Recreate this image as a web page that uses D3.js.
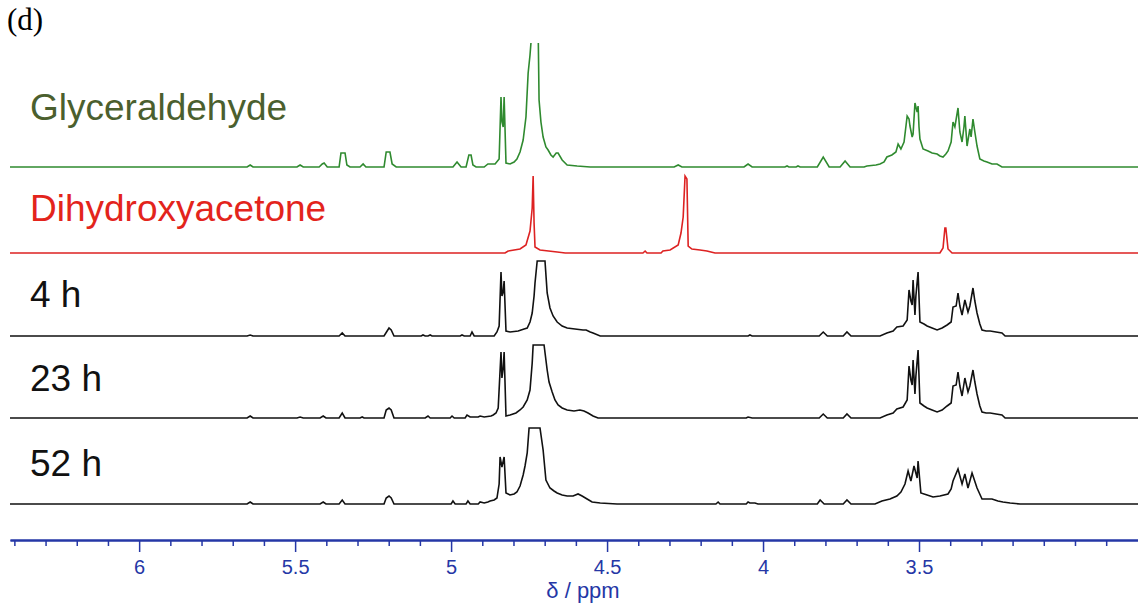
<!DOCTYPE html>
<html>
<head>
<meta charset="utf-8">
<script src="https://cdn.jsdelivr.net/npm/d3@7"></script>
<style>
  body { margin: 0; background: #fff; }
  svg { display: block; }
</style>
</head>
<body>
<svg class="chart"></svg>
<script>
// spectra as [ppm, intensity] pairs
const glyceraldehyde = [
  [6.414,0],[5.654,0],[5.644,2],[5.635,0],[5.494,0],[5.484,2],[5.474,0],
  [5.423,0],[5.413,3],[5.407,4],[5.397,0],[5.359,0],[5.353,14],[5.340,14],[5.334,2],[5.324,0],
  [5.292,0],[5.282,3],[5.273,0],[5.215,0],[5.208,15],[5.196,15],[5.189,3],[5.176,0],
  [4.994,0],[4.981,5],[4.968,0],[4.952,0],[4.943,12],[4.936,12],[4.930,2],[4.920,0],
  [4.894,0],[4.882,3],[4.859,3],[4.846,8],[4.840,70],[4.837,45],[4.833,40],[4.830,70],[4.824,4],
  [4.811,3],[4.798,5],[4.789,8],[4.779,15],[4.769,27],[4.760,50],[4.753,94],[4.747,112],[4.740,140],
  [4.721,140],[4.718,67],[4.712,45],[4.705,30],[4.696,20],[4.689,17],[4.680,12],[4.673,10],
  [4.663,14],[4.657,14],[4.644,7],[4.628,2],[4.596,1],[4.554,0],
  [4.285,0],[4.272,2],[4.260,0],[4.061,0],[4.048,3],[4.035,0],[3.930,0],[3.923,1],[3.917,0],
  [3.894,0],[3.888,1],[3.881,0],[3.826,0],[3.807,10],[3.788,0],[3.753,0],[3.737,6],[3.721,0],
  [3.676,0],[3.667,1],[3.638,2],[3.625,3],[3.612,5],[3.603,10],[3.587,12],[3.574,15],[3.567,23],
  [3.558,18],[3.548,25],[3.538,51],[3.532,48],[3.529,41],[3.522,30],[3.519,33],[3.513,64],
  [3.510,60],[3.506,55],[3.503,61],[3.500,40],[3.497,28],[3.487,18],[3.471,16],[3.458,14],
  [3.442,13],[3.433,11],[3.423,10],[3.414,13],[3.407,16],[3.397,25],[3.391,45],[3.385,40],
  [3.375,59],[3.369,35],[3.362,25],[3.356,40],[3.353,51],[3.346,21],[3.337,38],[3.333,30],
  [3.327,48],[3.321,35],[3.314,21],[3.305,8],[3.292,6],[3.282,5],[3.266,3],[3.250,3],[3.234,0],
  [2.798,0]
];
const dihydroxyacetone = [
  [6.414,0],[4.827,0],[4.817,2],[4.779,4],[4.760,8],[4.747,22],[4.740,45],[4.737,77],[4.734,30],
  [4.731,6],[4.715,3],[4.660,1],[4.634,0],[4.385,0],[4.378,2],[4.372,0],[4.327,0],[4.321,2],
  [4.298,3],[4.272,8],[4.263,20],[4.256,36],[4.250,77],[4.244,74],[4.240,7],[4.228,4],[4.202,3],
  [4.180,2],[4.154,0],[3.433,0],[3.423,5],[3.417,25],[3.414,25],[3.407,4],[3.394,0],[2.798,0]
];
const h4 = [
  [6.414,0],[5.654,0],[5.644,1],[5.635,0],[5.359,0],[5.349,3],[5.340,0],
  [5.215,0],[5.205,5],[5.199,8],[5.192,6],[5.183,0],[5.096,0],[5.090,1],[5.083,0],
  [5.074,0],[5.067,1],[5.061,0],[4.971,0],[4.965,1],[4.958,0],[4.939,0],[4.933,4],[4.926,0],
  [4.862,0],[4.853,4],[4.846,10],[4.840,64],[4.837,40],[4.833,44],[4.830,55],[4.824,5],
  [4.811,4],[4.785,5],[4.766,7],[4.756,8],[4.747,14],[4.740,23],[4.734,40],[4.731,53],[4.724,75],
  [4.699,75],[4.692,43],[4.683,28],[4.673,20],[4.660,14],[4.644,10],[4.628,8],[4.603,7],
  [4.577,6],[4.567,6],[4.554,4],[4.545,3],[4.522,0],
  [4.048,0],[4.042,1],[4.035,0],[3.820,0],[3.807,4],[3.794,0],[3.743,0],[3.731,4],[3.718,0],
  [3.625,0],[3.603,3],[3.583,5],[3.571,9],[3.551,10],[3.538,16],[3.532,46],[3.526,35],[3.522,31],
  [3.519,56],[3.513,21],[3.510,40],[3.503,64],[3.497,14],[3.484,12],[3.474,10],[3.458,8],
  [3.442,6],[3.426,8],[3.410,11],[3.397,14],[3.391,29],[3.381,30],[3.375,43],[3.369,30],
  [3.362,21],[3.353,36],[3.343,24],[3.337,30],[3.327,48],[3.321,35],[3.314,23],[3.305,12],
  [3.298,6],[3.285,5],[3.272,5],[3.253,4],[3.234,3],[3.224,0],[2.798,0]
];
const h23 = [
  [6.414,0],[5.654,0],[5.644,2],[5.635,0],[5.494,0],[5.484,1],[5.474,0],[5.420,0],[5.410,2],[5.401,0],
  [5.359,0],[5.349,5],[5.340,0],[5.292,0],[5.285,1],[5.279,0],
  [5.215,0],[5.208,8],[5.199,10],[5.192,8],[5.183,0],[5.083,0],[5.074,2],[5.067,0],
  [5.003,0],[4.997,2],[4.990,0],[4.955,0],[4.949,3],[4.939,1],[4.913,1],[4.907,2],[4.894,1],
  [4.872,2],[4.865,3],[4.856,5],[4.849,10],[4.840,66],[4.837,40],[4.833,50],[4.830,66],[4.824,2],
  [4.811,3],[4.792,5],[4.779,8],[4.769,11],[4.756,18],[4.747,28],[4.740,55],[4.737,73],
  [4.702,73],[4.692,48],[4.686,36],[4.676,26],[4.667,18],[4.657,13],[4.644,10],[4.628,8],
  [4.606,7],[4.587,8],[4.574,7],[4.561,5],[4.545,2],[4.529,0],
  [4.054,0],[4.048,1],[4.035,0],[3.820,0],[3.807,4],[3.794,0],[3.743,0],[3.731,4],[3.718,0],
  [3.625,0],[3.603,3],[3.583,5],[3.571,9],[3.551,11],[3.538,18],[3.532,52],[3.526,38],[3.522,33],
  [3.519,58],[3.513,24],[3.510,42],[3.503,68],[3.497,15],[3.484,12],[3.474,10],[3.458,8],
  [3.442,6],[3.426,8],[3.410,12],[3.397,15],[3.391,32],[3.381,33],[3.375,46],[3.369,32],
  [3.362,22],[3.353,40],[3.343,26],[3.337,32],[3.327,48],[3.321,36],[3.314,24],[3.305,12],
  [3.298,6],[3.285,5],[3.272,5],[3.253,4],[3.234,3],[3.224,0],[2.798,0]
];
const h52 = [
  [6.414,0],[5.654,0],[5.644,2],[5.635,0],[5.420,0],[5.410,2],[5.401,0],[5.359,0],[5.349,4],[5.340,0],
  [5.215,0],[5.208,6],[5.199,8],[5.192,6],[5.183,0],[5.000,0],[4.994,3],[4.987,0],
  [4.952,0],[4.946,3],[4.939,0],[4.913,0],[4.907,2],[4.894,1],[4.882,2],[4.875,3],[4.862,4],
  [4.853,6],[4.846,20],[4.843,47],[4.837,37],[4.830,47],[4.824,11],[4.811,9],[4.798,10],
  [4.789,12],[4.779,18],[4.769,29],[4.763,38],[4.756,51],[4.750,76],[4.715,76],[4.705,54],
  [4.696,24],[4.683,16],[4.670,13],[4.660,11],[4.644,9],[4.628,8],[4.609,8],[4.593,10],
  [4.580,8],[4.564,5],[4.548,2],[4.522,1],[4.468,0],
  [4.151,0],[4.144,2],[4.138,0],[4.054,0],[4.048,2],[4.042,1],[4.026,1],[4.016,0],
  [3.826,0],[3.817,4],[3.804,0],[3.743,0],[3.731,4],[3.718,0],[3.641,0],[3.619,3],[3.593,5],
  [3.571,8],[3.558,12],[3.545,20],[3.535,33],[3.526,23],[3.516,38],[3.506,26],[3.503,43],
  [3.494,11],[3.474,9],[3.455,7],[3.433,8],[3.407,10],[3.397,15],[3.391,23],[3.375,35],
  [3.362,20],[3.353,30],[3.343,16],[3.330,31],[3.314,16],[3.298,5],[3.282,5],[3.266,5],
  [3.247,3],[3.231,2],[3.208,1],[3.176,0],[2.798,0]
];

const labels = ["Glyceraldehyde", "Dihydroxyacetone", "4 h", "23 h", "52 h"];
const majorTicks = [6, 5.5, 5, 4.5, 4, 3.5];
const minorTicks = [6.4, 6.3, 6.2, 6.1, 5.9, 5.8, 5.7, 5.6, 5.4, 5.3, 5.2, 5.1, 4.9, 4.8, 4.7,
  4.6, 4.4, 4.3, 4.2, 4.1, 3.9, 3.8, 3.7, 3.6, 3.4, 3.3, 3.2, 3.1, 3.0, 2.9];

const width = 1138, height = 604;
const axisY = 540;
const plotTop = 43;
const traces = [
  {data: glyceraldehyde, base: 167, line: "#2f8a2f", text: "#4b5f2e", labelY: 120},
  {data: dihydroxyacetone, base: 253, line: "#dd2222", text: "#e3241c", labelY: 221},
  {data: h4, base: 336, line: "#111", text: "#111", labelY: 307},
  {data: h23, base: 418, line: "#111", text: "#111", labelY: 391},
  {data: h52, base: 504, line: "#111", text: "#111", labelY: 476}
];
const axisBlue = "#2537a6";

const svg = d3.select(".chart")
  .attr("width", width)
  .attr("height", height)
  .style("font-family", "'Liberation Sans', Arial, sans-serif");

// tall peaks run off the top of the plot
svg.append("defs").append("clipPath")
    .attr("id", "plotClip")
  .append("rect")
    .attr("x", 0)
    .attr("y", plotTop)
    .attr("width", width)
    .attr("height", height - plotTop);

let x = d3.scaleLinear()//ppm runs right to left
  .domain([6.414, 2.798])
  .range([10, 1138]);
let y = d3.scaleLinear()//intensity, shared by all traces
  .domain([0, 100])
  .range([0, -100]);

let line = d3.line()
  .x(d => x(d[0]))
  .y(d => y(d[1]));

svg.append("text")
  .attr("x", 7)
  .attr("y", 30)
  .style("font-family", "'Liberation Serif', 'Times New Roman', serif")
  .style("font-size", "31px")
  .text("(d)");

let plot = svg.append("g").attr("clip-path", "url(#plotClip)");

traces.forEach((t, i) => {
  plot.append("g")
      .attr("transform", "translate(0," + t.base + ")")
    .append("path")
      .datum(t.data)
      .attr("fill", "none")
      .attr("stroke", t.line)
      .attr("stroke-width", 1.6)
      .attr("d", line);
  svg.append("text")
    .attr("x", 30)
    .attr("y", t.labelY)
    .style("font-size", "37px")
    .style("fill", t.text)
    .text(labels[i]);
});

// minor ticks first, then major ticks with labels
let minorAxis = d3.axisBottom(x)
  .tickValues(minorTicks)
  .tickSize(6)
  .tickSizeOuter(0)
  .tickFormat("");
let majorAxis = d3.axisBottom(x)
  .tickValues(majorTicks)
  .tickSize(12)
  .tickSizeOuter(0)
  .tickPadding(8)
  .tickFormat(d => String(d));

let gMinor = svg.append("g")
  .attr("transform", "translate(0," + axisY + ")")
  .call(minorAxis);
let gMajor = svg.append("g")
  .attr("transform", "translate(0," + axisY + ")")
  .call(majorAxis);

[gMinor, gMajor].forEach(g => {
  g.select(".domain").attr("stroke", axisBlue).attr("stroke-width", 2);
  g.selectAll(".tick line").attr("stroke", axisBlue).attr("stroke-width", 1.5);
  g.selectAll(".tick text")
    .attr("fill", axisBlue)
    .style("font-size", "20px")
    .style("font-family", "'Liberation Sans', Arial, sans-serif");
});

svg.append("text")
  .attr("x", 583)
  .attr("y", 598)
  .attr("text-anchor", "middle")
  .style("font-size", "22px")
  .style("fill", axisBlue)
  .text("δ / ppm");
</script>
</body>
</html>
